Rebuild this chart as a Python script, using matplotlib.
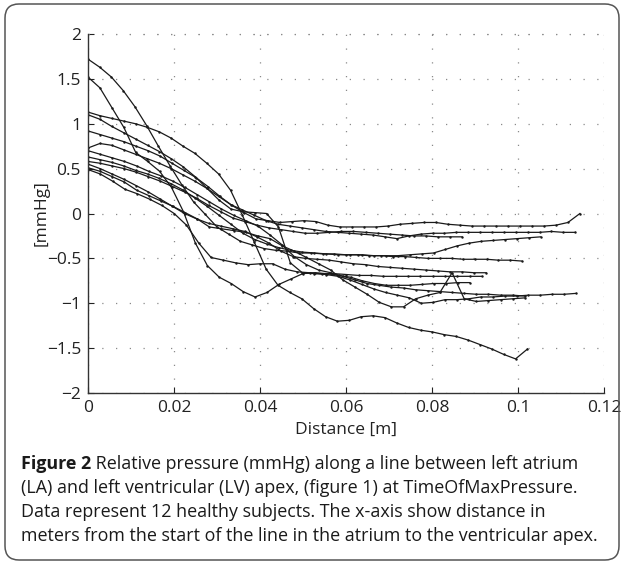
import numpy as np
import matplotlib
matplotlib.use("Agg")
import matplotlib.pyplot as plt
from matplotlib.patches import FancyBboxPatch

plt.rcParams['font.family'] = ['Open Sans', 'DejaVu Sans']

# ---- data: relative pressure [mmHg] along LA->LV line, 12 subjects ----
line_ends = [0.1009, 0.0888, 0.1022, 0.1135, 0.1144, 0.1133,
             0.1053, 0.0870, 0.0926, 0.0916, 0.1016, 0.1016]

subj_a = [1.72, 1.63, 1.52, 1.37, 1.19, 0.98, 0.75, 0.53, 0.32, 0.13, -0.01, -0.15, -0.23, -0.31,
          -0.35, -0.39, -0.41, -0.42, -0.44, -0.44, -0.45, -0.45, -0.46, -0.46, -0.47, -0.47, -0.48,
          -0.48, -0.49, -0.50, -0.50, -0.50, -0.51, -0.51, -0.51, -0.52, -0.52, -0.53]
subj_b = [1.52, 1.40, 1.18, 0.96, 0.68, 0.58, 0.47, 0.29, 0.02, -0.33, -0.58, -0.71, -0.78, -0.87,
          -0.93, -0.88, -0.79, -0.73, -0.67, -0.66, -0.67, -0.69, -0.71, -0.75, -0.78, -0.80, -0.80,
          -0.80, -0.79, -0.78, -0.78, -0.77, -0.77]
subj_c = [1.13, 1.09, 1.06, 1.03, 1.00, 0.96, 0.91, 0.84, 0.75, 0.67, 0.56, 0.44, 0.26, -0.02,
          -0.32, -0.62, -0.80, -0.88, -0.95, -1.06, -1.15, -1.20, -1.19, -1.15, -1.14, -1.16, -1.22,
          -1.27, -1.30, -1.32, -1.35, -1.37, -1.41, -1.46, -1.51, -1.57, -1.62, -1.51]
subj_d = [1.10, 1.05, 0.97, 0.90, 0.83, 0.76, 0.69, 0.61, 0.52, 0.41, 0.28, 0.15, 0.05, 0.02,
          0.01, 0.00, -0.15, -0.55, -0.66, -0.67, -0.68, -0.70, -0.74, -0.79, -0.84, -0.88, -0.91,
          -0.94, -1.00, -0.99, -0.96, -0.96, -0.95, -0.93, -0.93, -0.92, -0.92, -0.91, -0.91, -0.90,
          -0.90, -0.89]
subj_e = [0.92, 0.88, 0.84, 0.80, 0.75, 0.70, 0.64, 0.56, 0.48, 0.40, 0.30, 0.19, 0.09, 0.01,
          -0.06, -0.08, -0.10, -0.09, -0.08, -0.09, -0.13, -0.15, -0.15, -0.15, -0.15, -0.14, -0.12,
          -0.11, -0.10, -0.10, -0.12, -0.13, -0.14, -0.14, -0.14, -0.14, -0.14, -0.14, -0.14, -0.13,
          -0.10, 0.00]
subj_f = [0.73, 0.78, 0.76, 0.71, 0.66, 0.61, 0.56, 0.50, 0.43, 0.36, 0.28, 0.19, 0.10, 0.04,
          -0.02, -0.08, -0.12, -0.14, -0.16, -0.18, -0.20, -0.21, -0.22, -0.23, -0.24, -0.26, -0.28,
          -0.25, -0.23, -0.22, -0.22, -0.21, -0.21, -0.21, -0.21, -0.21, -0.21, -0.21, -0.21, -0.20,
          -0.21, -0.21]
subj_g = [0.63, 0.60, 0.57, 0.53, 0.48, 0.44, 0.39, 0.33, 0.26, 0.17, 0.08, -0.02, -0.12, -0.22,
          -0.29, -0.34, -0.38, -0.41, -0.43, -0.44, -0.45, -0.46, -0.46, -0.46, -0.47, -0.47, -0.47,
          -0.46, -0.45, -0.44, -0.40, -0.36, -0.33, -0.31, -0.30, -0.29, -0.28, -0.27, -0.26]
subj_h = [0.58, 0.56, 0.53, 0.50, 0.46, 0.41, 0.36, 0.30, 0.24, 0.17, 0.09, 0.02, -0.05, -0.09,
          -0.13, -0.16, -0.18, -0.20, -0.22, -0.22, -0.21, -0.20, -0.20, -0.21, -0.22, -0.23, -0.24,
          -0.25, -0.25, -0.26, -0.26, -0.26]
subj_i = [0.55, 0.50, 0.44, 0.38, 0.31, 0.24, 0.16, 0.08, 0.00, -0.06, -0.11, -0.14, -0.17, -0.20,
          -0.26, -0.33, -0.42, -0.48, -0.50, -0.51, -0.52, -0.54, -0.56, -0.57, -0.59, -0.60, -0.61,
          -0.62, -0.63, -0.64, -0.65, -0.65, -0.66, -0.66]
subj_j = [0.49, 0.44, 0.36, 0.27, 0.22, 0.16, 0.09, 0.00, -0.13, -0.33, -0.49, -0.52, -0.55, -0.57,
          -0.56, -0.56, -0.62, -0.65, -0.66, -0.67, -0.67, -0.68, -0.69, -0.69, -0.70, -0.70, -0.70,
          -0.70, -0.70, -0.70, -0.70, -0.70, -0.70]
subj_k = [0.51, 0.47, 0.41, 0.35, 0.26, 0.20, 0.14, 0.08, 0.01, -0.06, -0.15, -0.17, -0.19, -0.21,
          -0.25, -0.28, -0.36, -0.42, -0.49, -0.56, -0.63, -0.74, -0.82, -0.90, -0.99, -1.04, -1.04,
          -0.95, -0.91, -0.88, -0.66, -0.95, -0.98, -0.97, -0.96, -0.95, -0.94]
subj_l = [0.70, 0.66, 0.62, 0.58, 0.53, 0.47, 0.42, 0.36, 0.29, 0.21, 0.13, 0.05, -0.02, -0.08,
          -0.14, -0.24, -0.35, -0.48, -0.57, -0.63, -0.66, -0.70, -0.74, -0.78, -0.80, -0.82, -0.83,
          -0.85, -0.86, -0.87, -0.88, -0.89, -0.90, -0.90, -0.91, -0.91, -0.92]

subjects = [subj_a, subj_b, subj_c, subj_d, subj_e, subj_f,
            subj_g, subj_h, subj_i, subj_j, subj_k, subj_l]

x_ticks = [0, 0.02, 0.04, 0.06, 0.08, 0.1, 0.12]
x_ticklabels = ['0', '0.02', '0.04', '0.06', '0.08', '0.1', '0.12']
y_ticks = [-2, -1.5, -1, -0.5, 0, 0.5, 1, 1.5, 2]
y_ticklabels = ['\u22122', '\u22121.5', '\u22121', '\u22120.5', '0', '0.5', '1', '1.5', '2']

caption_lines = [
    ("Figure 2", " Relative pressure (mmHg) along a line between left atrium"),
    ("", "(LA) and left ventricular (LV) apex, (figure 1) at TimeOfMaxPressure."),
    ("", "Data represent 12 healthy subjects. The x-axis show distance in"),
    ("", "meters from the start of the line in the atrium to the ventricular apex."),
]

# ---- figure ----
W, H = 624, 564
fig = plt.figure(figsize=(W / 100, H / 100), dpi=100)
fig.patch.set_facecolor('white')

ax = fig.add_axes([88 / W, 1 - 393 / H, (604 - 88) / W, (393 - 34) / H])

for y, end in zip(subjects, line_ends):
    x = np.linspace(0, end, len(y))
    ax.plot(x, y, color='#1a1a1a', lw=0.9, marker='.', markersize=3.5,
            markeredgewidth=0, solid_joinstyle='round')

ax.set_xlim(0, 0.12)
ax.set_ylim(-2, 2)
ax.set_xticks(x_ticks)
ax.set_xticklabels(x_ticklabels)
ax.set_yticks(y_ticks)
ax.set_yticklabels(y_ticklabels)
ax.tick_params(direction='in', length=4, width=0.8, labelsize=12.5, colors='#222222', pad=5)

ax.grid(True, color='#8a8a8a', linestyle=(0, (1, 10)), linewidth=0.9)
for s in ['top', 'right']:
    ax.spines[s].set_visible(False)
for s in ['left', 'bottom']:
    ax.spines[s].set_color('#333333')
    ax.spines[s].set_linewidth(1.0)
ax.axhline(2, color='#8a8a8a', linestyle=(0, (1, 10)), linewidth=0.9, clip_on=False)

ax.set_xlabel('Distance [m]', fontsize=12.5, color='#222222', labelpad=4)
ax.set_ylabel('[mmHg]', fontsize=12.5, color='#222222', labelpad=-2)

# rounded frame around figure + caption
frame = FancyBboxPatch((0.05, 0.04), 6.14, 5.56,
                       boxstyle='round,pad=0,rounding_size=0.14',
                       transform=fig.dpi_scale_trans, fill=False,
                       edgecolor='#555555', linewidth=1.1)
fig.patches.append(frame)

# caption
y0 = 464
fs = 12.9
for i, (bold, rest) in enumerate(caption_lines):
    ypix = y0 + i * 24
    yf = 1 - ypix / H
    if bold:
        t = fig.text(21 / W, yf, bold, fontsize=fs, fontweight='bold',
                     color='#1a1a1a', va='center', ha='left')
        fig.canvas.draw()
        bb = t.get_window_extent()
        fig.text(bb.x1 / W, yf, rest, fontsize=fs, color='#1a1a1a',
                 va='center', ha='left')
    else:
        fig.text(21 / W, yf, rest, fontsize=fs, color='#1a1a1a',
                 va='center', ha='left')

fig.savefig('out.png', dpi=100, facecolor='white')
